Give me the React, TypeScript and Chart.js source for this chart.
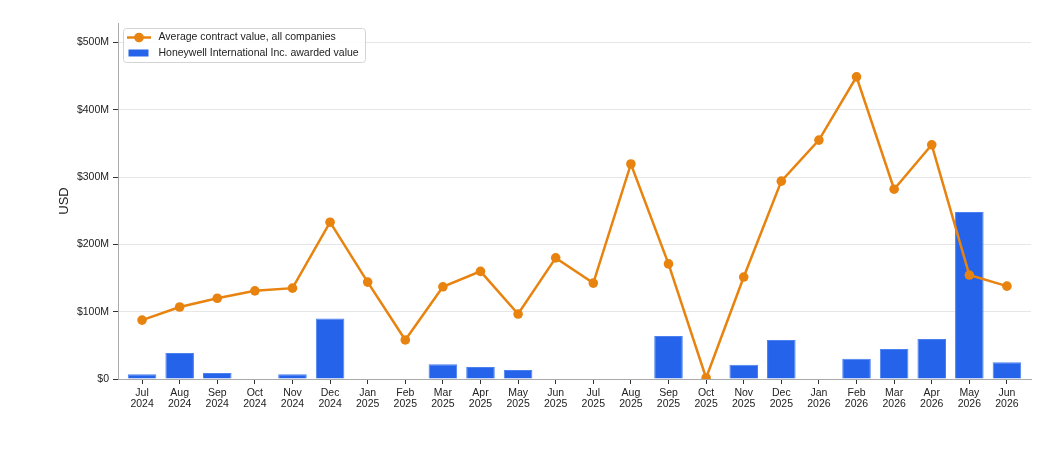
import React, { useEffect, useRef } from "react";
import { Chart, registerables } from "chart.js";

Chart.register(...registerables);

// Monthly buckets, Jul 2024 – Jun 2026
const months = [
  "Jul 2024", "Aug 2024", "Sep 2024", "Oct 2024", "Nov 2024", "Dec 2024",
  "Jan 2025", "Feb 2025", "Mar 2025", "Apr 2025", "May 2025", "Jun 2025",
  "Jul 2025", "Aug 2025", "Sep 2025", "Oct 2025", "Nov 2025", "Dec 2025",
  "Jan 2026", "Feb 2026", "Mar 2026", "Apr 2026", "May 2026", "Jun 2026",
];

// Average contract value across all companies (USD)
const averageValue = [
  87.5e6, 107e6, 120e6, 131e6, 135e6, 233e6,
  144e6, 58e6, 137e6, 160e6, 96.5e6, 180e6,
  142.5e6, 319.5e6, 171e6, 1.5e6, 151.5e6, 294e6,
  355e6, 449e6, 282e6, 348e6, 154.5e6, 138e6,
];

// Value awarded to Honeywell International Inc. (USD)
const honeywellValue = [
  7e6, 38.5e6, 9e6, 0, 7e6, 90e6,
  0, 0, 22e6, 18e6, 13.5e6, 0,
  0, 0, 64e6, 0, 21e6, 58e6,
  0, 30e6, 44.5e6, 59.5e6, 248e6, 25e6,
];

const yTicks = [0, 100e6, 200e6, 300e6, 400e6, 500e6];

const ORANGE = "#E8830F";
const BLUE = "#2563EB";
const FONT = "'Liberation Sans', Arial, Helvetica, sans-serif";

const fmtUSD = (v: number) => (v === 0 ? "$0" : `$${Math.round(v / 1e6)}M`);

// Legend drawn inside the plot, upper-left corner
const insideLegend = {
  id: "insideLegend",
  afterDraw(chart: any) {
    const { ctx, chartArea } = chart;
    const x = chartArea.left + 5.5;
    const y = chartArea.top + 5.5;
    const w = 242;
    const h = 34;
    ctx.save();
    ctx.beginPath();
    ctx.roundRect(x, y, w, h, 3);
    ctx.fillStyle = "rgba(255,255,255,0.85)";
    ctx.fill();
    ctx.strokeStyle = "#d4d4d4";
    ctx.lineWidth = 1;
    ctx.stroke();

    const ds = chart.data.datasets;
    // line entry
    const ly = y + 9;
    ctx.strokeStyle = ORANGE;
    ctx.lineWidth = 2.5;
    ctx.beginPath();
    ctx.moveTo(x + 3.5, ly);
    ctx.lineTo(x + 27.5, ly);
    ctx.stroke();
    ctx.fillStyle = ORANGE;
    ctx.beginPath();
    ctx.arc(x + 15.5, ly, 4.8, 0, Math.PI * 2);
    ctx.fill();

    // bar entry
    const by = y + 25;
    ctx.fillStyle = BLUE;
    ctx.fillRect(x + 5, by - 4, 20, 7);

    ctx.fillStyle = "#222";
    ctx.font = `10.5px ${FONT}`;
    ctx.textBaseline = "middle";
    ctx.textAlign = "left";
    ctx.fillText(ds[0].label, x + 35, ly);
    ctx.fillText(ds[1].label, x + 35, by);
    ctx.restore();
  },
};

export default function App() {
  const canvasRef = useRef<HTMLCanvasElement | null>(null);

  useEffect(() => {
    if (!canvasRef.current) return;
    const chart = new Chart(canvasRef.current, {
      type: "bar",
      data: {
        datasets: [
          {
            type: "line",
            label: "Average contract value, all companies",
            data: averageValue.map((v, i) => ({ x: i, y: v })),
            borderColor: ORANGE,
            backgroundColor: ORANGE,
            borderWidth: 2.5,
            pointRadius: 4.8,
            pointHoverRadius: 4.8,
            pointBackgroundColor: ORANGE,
            pointBorderWidth: 0,
            tension: 0,
            clip: 0,
            order: 0,
          } as any,
          {
            type: "bar",
            label: "Honeywell International Inc. awarded value",
            data: honeywellValue.map((v, i) => ({ x: i, y: v })),
            backgroundColor: BLUE,
            borderColor: "#4a80f0",
            borderWidth: (c: any) => (c.raw && c.raw.y > 0 ? 1 : 0),
            borderSkipped: "bottom",
            barPercentage: 1,
            categoryPercentage: 0.76,
            order: 1,
          } as any,
        ],
      },
      options: {
        animation: false,
        responsive: false,
        devicePixelRatio: 1,
        layout: { padding: { left: 57, top: 23, right: 25, bottom: 0 } },
        plugins: {
          legend: { display: false },
          tooltip: { enabled: false },
        },
        scales: {
          x: {
            type: "linear",
            min: -0.64,
            max: 23.64,
            offset: false,
            afterBuildTicks: (s: any) => {
              s.ticks = months.map((_, i) => ({ value: i }));
            },
            afterFit: (s: any) => {
              s.height = 81;
            },
            grid: {
              offset: false,
              drawOnChartArea: false,
              drawTicks: true,
              tickLength: 5,
              tickColor: "#333",
            },
            border: { display: true, color: "#aaa", width: 1 },
            ticks: {
              autoSkip: false,
              maxRotation: 0,
              padding: 4,
              color: "#222",
              font: { family: FONT, size: 10.5, lineHeight: 1.05 },
              callback: (v: any) => {
                const m = months[Math.round(Number(v))];
                return m ? m.split(" ") : "";
              },
            },
          },
          y: {
            type: "linear",
            min: 0,
            max: 529e6,
            afterBuildTicks: (s: any) => {
              s.ticks = yTicks.map((v) => ({ value: v }));
            },
            afterFit: (s: any) => {
              s.width = 61;
            },
            grid: {
              color: "#e6e6e6",
              lineWidth: 1,
              drawTicks: true,
              tickLength: 5,
              tickColor: "#333",
            },
            border: { display: true, color: "#aaa", width: 1 },
            ticks: {
              padding: 4,
              color: "#222",
              font: { family: FONT, size: 10.5 },
              callback: (v: any) => fmtUSD(Number(v)),
            },
            title: {
              display: true,
              text: "USD",
              color: "#222",
              font: { family: FONT, size: 13 },
              padding: { top: 0, bottom: 0 },
            },
          },
        },
      },
      plugins: [insideLegend],
    });
    return () => chart.destroy();
  }, []);

  return (
    <div style={{ position: "absolute", left: 0, top: 0, width: 1056, height: 460, background: "#fff" }}>
      <canvas ref={canvasRef} width={1056} height={460} style={{ width: 1056, height: 460 }} />
    </div>
  );
}
